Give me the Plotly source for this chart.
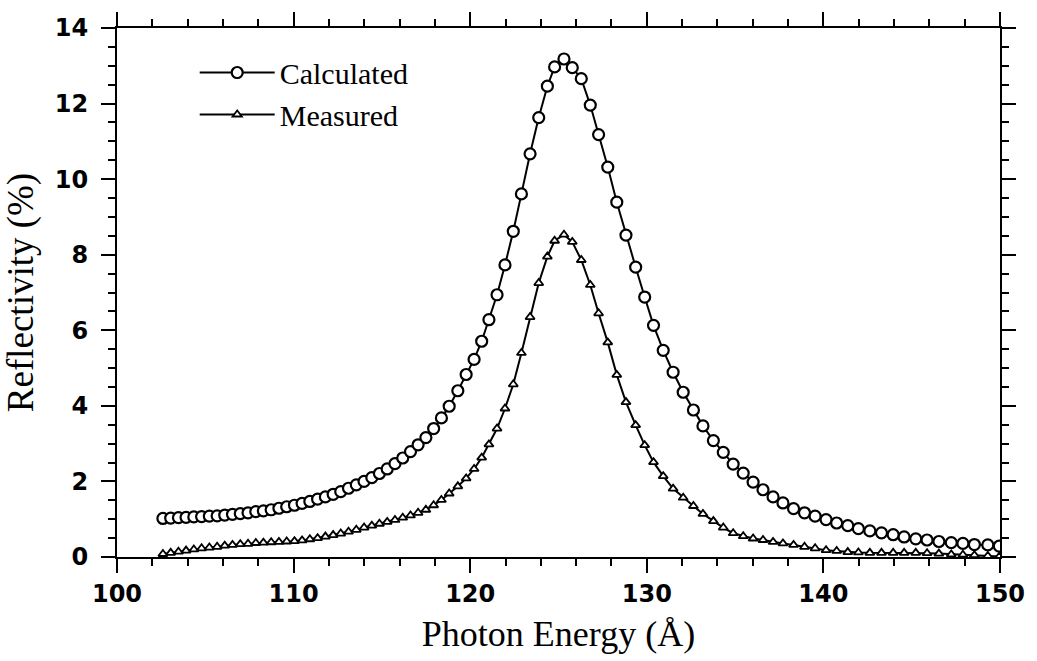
import plotly.graph_objects as go

# Photon energy grid (Å) shared by both curves
energy = [
    102.60, 103.04, 103.48, 103.91, 104.35, 104.79, 105.23, 105.67, 106.10, 106.54,
    106.98, 107.42, 107.86, 108.29, 108.73, 109.17, 109.61, 110.05, 110.48, 110.92,
    111.36, 111.80, 112.24, 112.67, 113.11, 113.55, 113.99, 114.43, 114.86, 115.30,
    115.74, 116.18, 116.62, 117.05, 117.49, 117.93, 118.37, 118.81, 119.30, 119.77,
    120.22, 120.65, 121.06, 121.52, 121.97, 122.44, 122.90, 123.39, 123.88, 124.37,
    124.78, 125.31, 125.78, 126.29, 126.80, 127.27, 127.79, 128.30, 128.82, 129.37,
    129.88, 130.38, 130.93, 131.49, 132.06, 132.64, 133.18, 133.77, 134.33, 134.89,
    135.46, 136.02, 136.58, 137.15, 137.71, 138.31, 138.93, 139.53, 140.15, 140.75,
    141.38, 141.98, 142.63, 143.29, 143.95, 144.57, 145.23, 145.87, 146.54, 147.24,
    147.90, 148.55, 149.31, 149.96,
]

# Reflectivity (%) – calculated
calculated = [
    1.02, 1.03, 1.04, 1.05, 1.06, 1.07, 1.08, 1.09, 1.11, 1.13,
    1.15, 1.17, 1.20, 1.22, 1.25, 1.29, 1.33, 1.37, 1.42, 1.47,
    1.53, 1.59, 1.66, 1.73, 1.82, 1.91, 2.00, 2.10, 2.21, 2.33,
    2.47, 2.62, 2.79, 2.97, 3.16, 3.40, 3.68, 3.99, 4.40, 4.83,
    5.23, 5.71, 6.28, 6.94, 7.73, 8.62, 9.61, 10.67, 11.63, 12.46,
    12.97, 13.18, 12.95, 12.66, 11.96, 11.18, 10.32, 9.39, 8.52, 7.67,
    6.88, 6.13, 5.47, 4.89, 4.36, 3.89, 3.47, 3.08, 2.77, 2.46,
    2.22, 1.98, 1.78, 1.59, 1.43, 1.28, 1.17, 1.08, 0.99, 0.90,
    0.83, 0.75, 0.69, 0.64, 0.59, 0.53, 0.48, 0.45, 0.41, 0.38,
    0.36, 0.33, 0.32, 0.29,
]

# Reflectivity (%) – measured
measured = [
    0.08, 0.11, 0.14, 0.17, 0.20, 0.23, 0.25, 0.27, 0.30, 0.32,
    0.34, 0.35, 0.37, 0.38, 0.39, 0.40, 0.41, 0.42, 0.44, 0.47,
    0.50, 0.54, 0.58, 0.62, 0.67, 0.72, 0.78, 0.83, 0.88, 0.93,
    0.98, 1.04, 1.10, 1.17, 1.25, 1.37, 1.51, 1.68, 1.87, 2.08,
    2.33, 2.63, 2.98, 3.40, 3.93, 4.57, 5.40, 6.35, 7.25, 7.95,
    8.37, 8.53, 8.34, 7.86, 7.20, 6.45, 5.68, 4.82, 4.10, 3.49,
    2.96, 2.51, 2.14, 1.81, 1.57, 1.35, 1.14, 0.95, 0.78, 0.63,
    0.55, 0.49, 0.45, 0.40, 0.36, 0.32, 0.27, 0.23, 0.18, 0.16,
    0.13, 0.12, 0.11, 0.11, 0.11, 0.11, 0.11, 0.10, 0.09, 0.07,
    0.06, 0.05, 0.03, 0.01,
]

x_ticks = [100, 110, 120, 130, 140, 150]
y_ticks = [0, 2, 4, 6, 8, 10, 12, 14]

serif = "Liberation Serif, Times New Roman, serif"
sans = "DejaVu Sans, Liberation Sans, Arial, sans-serif"

fig = go.Figure()
fig.add_trace(go.Scatter(
    x=energy, y=calculated, name="Calculated", mode="lines+markers",
    line=dict(color="black", width=2),
    marker=dict(symbol="circle", size=11, color="white",
                line=dict(color="black", width=2.2)),
))
fig.add_trace(go.Scatter(
    x=energy, y=measured, name="Measured", mode="lines+markers",
    line=dict(color="black", width=2),
    marker=dict(symbol="triangle-up", size=8, color="white",
                line=dict(color="black", width=1.8)),
))

axis_common = dict(
    showline=True, linecolor="black", linewidth=2,
    mirror="ticks", ticks="outside", ticklen=14, tickwidth=2, tickcolor="black",
    showgrid=False, zeroline=False,
    tickfont=dict(family=sans, size=24, color="black", weight="bold"),
)

fig.update_xaxes(
    **axis_common,
    range=[100, 150], tickvals=x_ticks,
    minor=dict(dtick=2, tick0=100, ticks="outside", ticklen=7,
               tickwidth=1.8, tickcolor="black", showgrid=False),
    title=dict(text="Photon Energy (Å)", font=dict(family=serif, size=36, color="black"),
               standoff=14),
)
fig.update_yaxes(
    **axis_common,
    range=[0, 14], tickvals=y_ticks,
    minor=dict(dtick=0.5, tick0=0, ticks="outside", ticklen=7,
               tickwidth=1.8, tickcolor="black", showgrid=False),
    title=dict(text="Reflectivity (%)", font=dict(family=serif, size=37, color="black"),
               standoff=12),
    ticklabelstandoff=8,
)

fig.update_layout(
    width=1037, height=661,
    margin=dict(l=117, r=33, t=25, b=104),
    paper_bgcolor="white", plot_bgcolor="white",
    showlegend=True,
    legend=dict(
        x=0.088, y=0.965, xanchor="left", yanchor="top",
        bgcolor="rgba(0,0,0,0)", borderwidth=0,
        font=dict(family=serif, size=30, color="black"),
        itemwidth=75, tracegroupgap=0,
    ),
)

fig.write_html("out.html")
